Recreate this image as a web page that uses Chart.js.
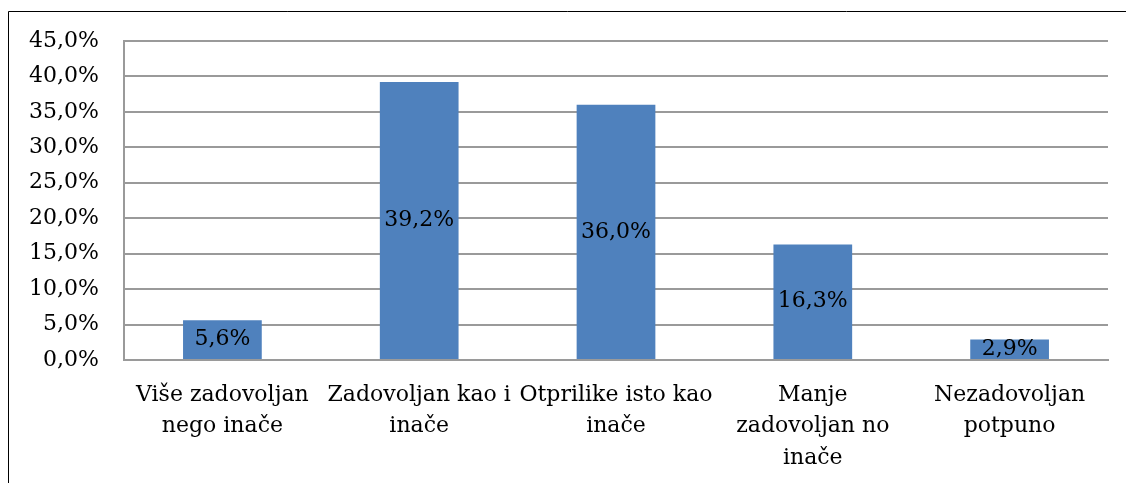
<!DOCTYPE html>
<html>
<head>
<meta charset="utf-8">
<script src="https://cdn.jsdelivr.net/npm/chart.js@4"></script>
<style>
  html, body { margin: 0; padding: 0; background: #fff; }
  #wrap { width: 1126px; height: 483px; position: relative; }
</style>
</head>
<body>
<div id="wrap"><canvas id="barCan"></canvas></div>
<script>
const categories = [
  ['Više zadovoljan', 'nego inače'],
  ['Zadovoljan kao i', 'inače'],
  ['Otprilike isto kao', 'inače'],
  ['Manje', 'zadovoljan no', 'inače'],
  ['Nezadovoljan', 'potpuno']
]
const shares = [5.6, 39.2, 36.0, 16.3, 2.9]
const yMax = 45
const yStep = 5

const fmt = v => v.toFixed(1).replace('.', ',') + '%'
const fontFam = "'DejaVu Serif', serif"
const fontSize = 22

// frame around the chart (only top/left show, rest is cropped)
const framePlugin = {
  id: 'frame',
  beforeDraw(chart) {
    const ctx = chart.ctx
    ctx.save()
    ctx.strokeStyle = '#000'
    ctx.lineWidth = 1
    ctx.beginPath()
    ctx.moveTo(8.5, chart.height)
    ctx.lineTo(8.5, 11.5)
    ctx.lineTo(chart.width, 11.5)
    ctx.stroke()
    ctx.restore()
  }
}

// value labels in the middle of each bar
const valueLabels = {
  id: 'valueLabels',
  afterDatasetsDraw(chart) {
    const ctx = chart.ctx
    ctx.save()
    ctx.font = fontSize + 'px ' + fontFam
    ctx.fillStyle = '#000'
    ctx.textAlign = 'center'
    ctx.textBaseline = 'middle'
    chart.getDatasetMeta(0).data.forEach((bar, i) => {
      const mid = (bar.y + bar.base) / 2
      ctx.fillText(fmt(shares[i]), bar.x, mid)
    })
    ctx.restore()
  }
}

new Chart(document.getElementById('barCan'), {
  type: 'bar',
  data: {
    labels: categories,
    datasets: [{
      data: shares,
      backgroundColor: '#4F81BD',
      barPercentage: 0.8,
      categoryPercentage: 0.5
    }]
  },
  options: {
    responsive: true,
    maintainAspectRatio: false,
    animation: false,
    layout: { padding: { top: 41, right: 18, bottom: 0, left: 0 } },
    plugins: {
      legend: { display: false },
      tooltip: { enabled: false }
    },
    scales: {
      x: {
        grid: { display: false, drawTicks: false },
        border: { color: '#9a9a9a', width: 2 },
        ticks: {
          color: '#000',
          padding: 19,
          maxRotation: 0,
          autoSkip: false,
          font: { family: fontFam, size: fontSize, lineHeight: 1.44 }
        },
        afterFit(scale) { scale.height = 123 }
      },
      y: {
        min: 0,
        max: yMax,
        grid: { color: '#9a9a9a', lineWidth: 2, drawTicks: false },
        border: { color: '#9a9a9a', width: 2 },
        ticks: {
          stepSize: yStep,
          color: '#000',
          padding: 25,
          font: { family: fontFam, size: fontSize },
          callback: v => fmt(v)
        },
        afterFit(scale) { scale.width = 124 }
      }
    }
  },
  plugins: [framePlugin, valueLabels]
})
</script>
</body>
</html>
